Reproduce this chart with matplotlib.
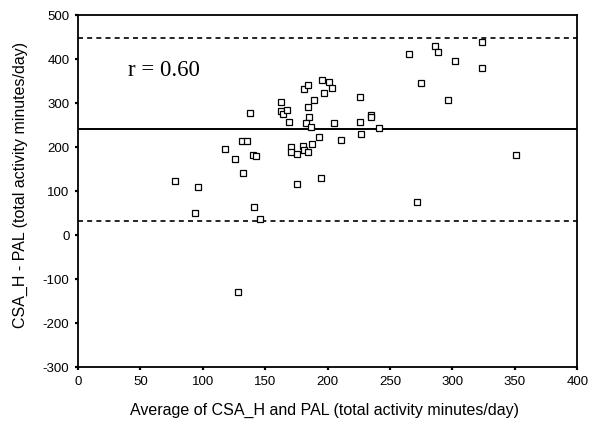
import matplotlib
matplotlib.use("Agg")
import matplotlib.pyplot as plt

# Data (Bland-Altman style plot)
avg_minutes = [78, 96, 94, 118, 126, 131, 135.5, 132.5, 138, 140, 142.7, 141, 146, 128,
               163, 163, 164, 167.3, 169.4, 170.8, 170.8, 175.4, 175.4, 181, 184.2, 184,
               185.2, 182.8, 186.3, 189.2, 180.2, 180.7, 184.2, 187.4, 192.7, 194.6,
               195.4, 200.7, 203.4, 197.3, 205, 210.3, 226, 225.6, 227, 234.4, 234.4,
               240.8, 265, 274.6, 286, 288.2, 296.3, 301.7, 271.6, 323.4, 323.4, 351.2]
diff_minutes = [123, 110, 51, 195, 174, 214, 214, 142, 277, 182, 179, 65, 37, -129,
                303, 282, 275, 285, 258, 201, 188, 184, 116, 332, 340, 292,
                269, 254, 245, 306, 203, 194, 190, 207, 224, 130,
                353, 347, 334, 324, 254, 216, 314, 256, 230, 274, 268,
                243, 411, 346, 430, 415, 306, 396, 76, 438, 380, 183]

mean_diff = 240
upper_loa = 448
lower_loa = 32
r_text = "r = 0.60"

x_ticks = [0, 50, 100, 150, 200, 250, 300, 350, 400]
y_ticks = [-300, -200, -100, 0, 100, 200, 300, 400, 500]

fig = plt.figure(figsize=(5.89, 4.29), dpi=100)
ax = fig.add_axes([78 / 589, 1 - 367.3 / 429, 499.3 / 589, 352.3 / 429])

ax.plot(avg_minutes, diff_minutes, linestyle="none", marker="s", markersize=4.4,
        markerfacecolor="white", markeredgecolor="black", markeredgewidth=0.9, zorder=3)

ax.axhline(mean_diff, color="black", linewidth=1.4, zorder=2)
ax.axhline(upper_loa, color="black", linewidth=1.2, linestyle=(0, (3, 2.5)), zorder=2)
ax.axhline(lower_loa, color="black", linewidth=1.2, linestyle=(0, (3, 2.5)), zorder=2)

ax.set_xlim(0, 400)
ax.set_ylim(-300, 500)
ax.set_xticks(x_ticks)
ax.set_yticks(y_ticks)
ax.set_xticklabels([str(v) for v in x_ticks], fontfamily="Liberation Sans", fontsize=9.5)
ax.set_yticklabels([str(v) for v in y_ticks], fontfamily="Liberation Sans", fontsize=9.5)
ax.tick_params(direction="out", length=2.2, width=1.6, pad=4.0, colors="black")

for s in ax.spines.values():
    s.set_linewidth(1.3)
    s.set_color("black")

ax.text(40, 374, r_text, fontfamily="Liberation Serif", fontsize=16.5, va="center", ha="left")

ax.set_xlabel("Average of CSA_H and PAL (total activity minutes/day)",
              fontfamily="Liberation Sans", fontsize=11.5)
ax.set_ylabel("CSA_H - PAL (total activity minutes/day)",
              fontfamily="Liberation Sans", fontsize=11.5)
ax.xaxis.label.set_va("center")
ax.yaxis.label.set_va("center")
ax.xaxis.set_label_coords((324 - 78) / 499.3, (367.3 - 410) / 352.3)
ax.yaxis.set_label_coords((20 - 78) / 499.3, (367.3 - 185) / 352.3)

fig.savefig("out.png", dpi=100)
